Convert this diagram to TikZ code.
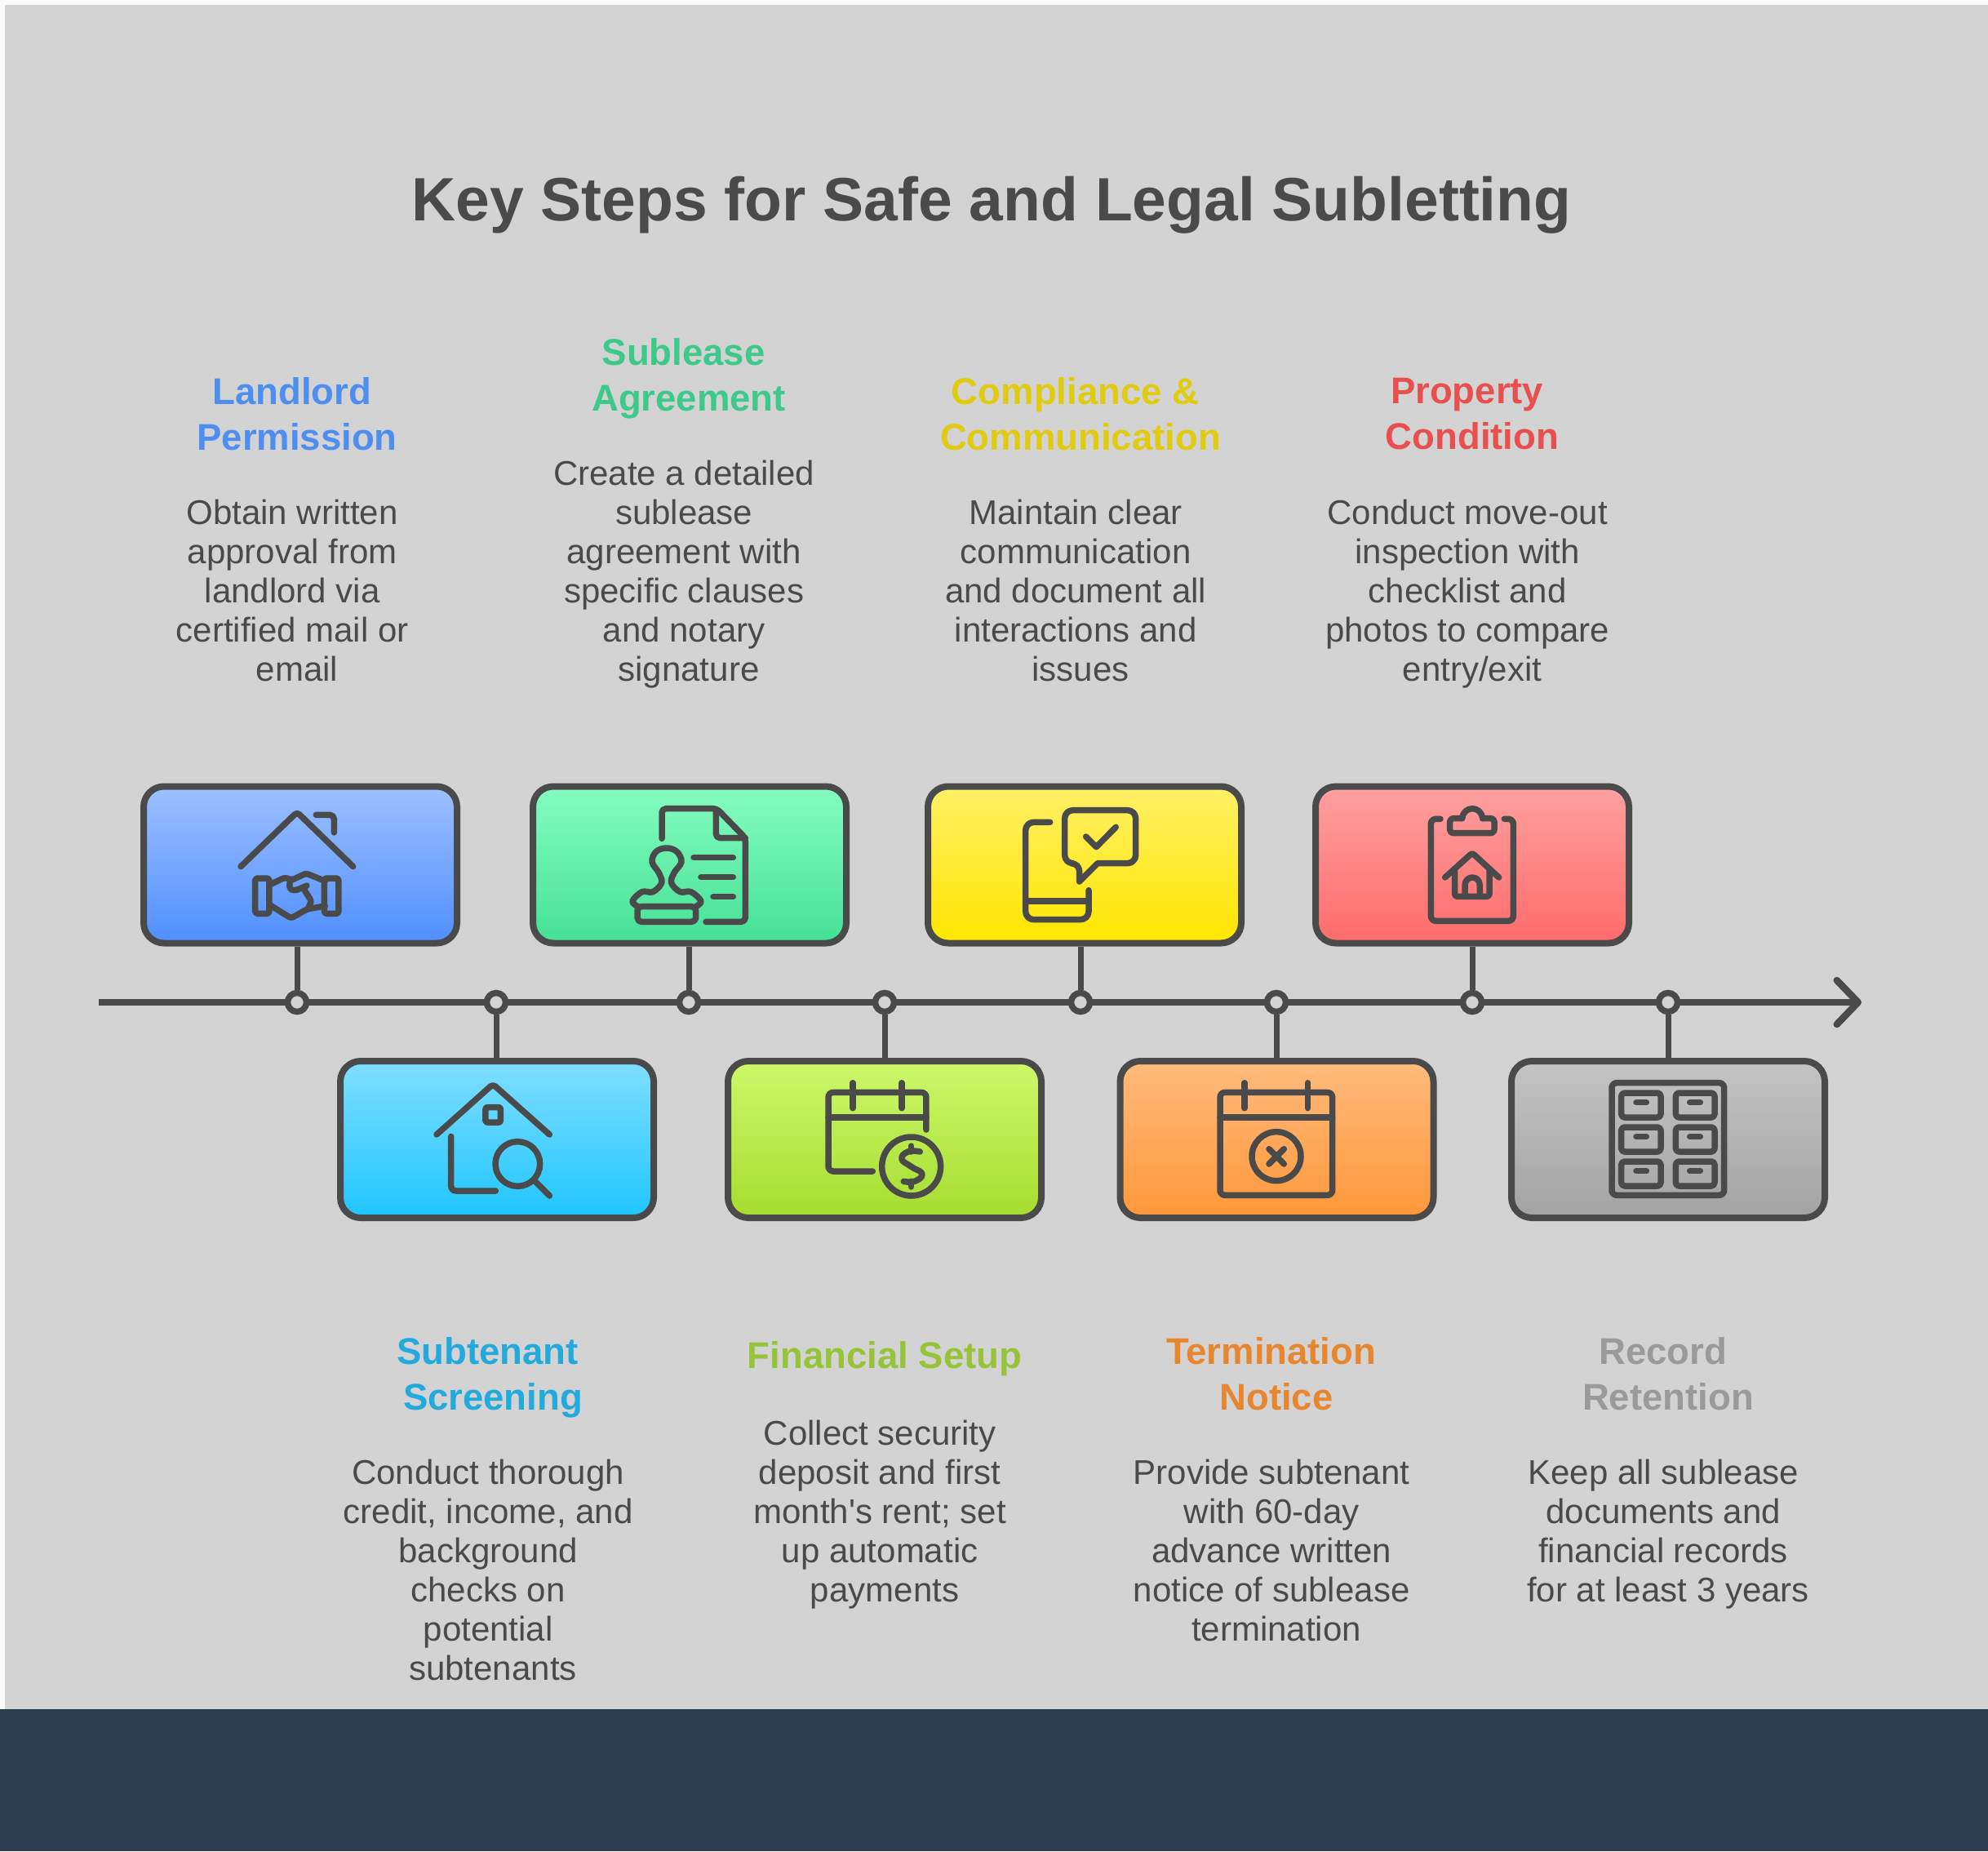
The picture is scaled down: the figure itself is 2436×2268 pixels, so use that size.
\documentclass[tikz,border=0pt]{standalone}
\usepackage{fontspec}
\setmainfont{Liberation Sans}
\usetikzlibrary{arrows.meta}

\definecolor{linegray}{HTML}{4A4A4A}
\definecolor{panelgray}{HTML}{D3D3D3}
\definecolor{navy}{HTML}{2C3E50}
\definecolor{paper}{HTML}{F9FBFB}
\definecolor{bluetext}{HTML}{4D8EF0}
\definecolor{greentext}{HTML}{3CC98A}
\definecolor{yellowtext}{HTML}{E0CB10}
\definecolor{redtext}{HTML}{E85050}
\definecolor{cyantext}{HTML}{22AADD}
\definecolor{limetext}{HTML}{95C438}
\definecolor{orangetext}{HTML}{E8862D}
\definecolor{graytext}{HTML}{9A9A9A}
\definecolor{bluetop}{HTML}{9DC0FF}
\definecolor{bluebot}{HTML}{4F8FFF}
\definecolor{greentop}{HTML}{85FDC0}
\definecolor{greenbot}{HTML}{45E096}
\definecolor{yellowtop}{HTML}{FFF066}
\definecolor{yellowbot}{HTML}{FFE600}
\definecolor{redtop}{HTML}{FFA0A0}
\definecolor{redbot}{HTML}{FF6B6B}
\definecolor{cyantop}{HTML}{80DFFF}
\definecolor{cyanbot}{HTML}{1FC5FF}
\definecolor{limetop}{HTML}{CCF86A}
\definecolor{limebot}{HTML}{A6DD30}
\definecolor{orangetop}{HTML}{FFBB7C}
\definecolor{orangebot}{HTML}{FF973A}
\definecolor{graytop}{HTML}{C4C4C4}
\definecolor{graybot}{HTML}{A3A3A3}

\newcommand{\linebrk}{\ \mbox{}\\}

\begin{document}
\begin{tikzpicture}[
        x=1pt,
        y=-1pt,
        stepbox/.style={
            rectangle,
            rounded corners=25pt,
            draw=linegray,
            line width=8pt,
            minimum width=384pt,
            minimum height=192pt,
            inner sep=0pt,
        },
        dot/.style={
            circle,
            fill=panelgray,
            draw=linegray,
            line width=7.5pt,
            minimum size=23pt,
            inner sep=0pt,
        },
        stem/.style={
            draw=linegray,
            line width=7pt,
        },
        icon/.style={
            draw=linegray,
            line width=7.5pt,
            line cap=round,
            line join=round,
        },
        heading/.style={
            anchor=north,
            align=center,
            inner sep=0pt,
            font=\fontsize{45.5}{56}\selectfont\bfseries,
            execute at begin node=\strut,
            execute at end node=\strut,
        },
        body/.style={
            anchor=north,
            align=center,
            inner sep=0pt,
            text=linegray,
            font=\fontsize{42}{48}\selectfont,
            execute at begin node=\strut,
            execute at end node=\strut,
        },
    ]

    \useasboundingbox (0, 0) rectangle (2436, 2268);
    \fill[paper] (0, 0) rectangle (2436, 2268);
    \fill[panelgray] (6, 6) rectangle (2436, 2094);
    \fill[navy] (0, 2094) rectangle (2436, 2268);

    \node[text=linegray, font=\fontsize{75}{90}\selectfont\bfseries, inner sep=0pt] (title) at (1215, 251) {Key Steps for Safe and Legal Subletting};

    \coordinate (axisstart) at (121, 1228);
    \coordinate (axisend) at (2281, 1228);
    \draw[draw=linegray, line width=8.5pt, -{Straight Barb[length=26pt, width=54pt, round]}] (axisstart) -- (axisend);

    \node[stepbox, top color=bluetop, bottom color=bluebot] (landlord) at (368, 1059.5) {};
    \node[stepbox, top color=greentop, bottom color=greenbot] (sublease) at (845, 1059.5) {};
    \node[stepbox, top color=yellowtop, bottom color=yellowbot] (compliance) at (1329, 1059.5) {};
    \node[stepbox, top color=redtop, bottom color=redbot] (condition) at (1804, 1059.5) {};
    \node[stepbox, top color=cyantop, bottom color=cyanbot] (screening) at (609, 1396) {};
    \node[stepbox, top color=limetop, bottom color=limebot] (financial) at (1084, 1396) {};
    \node[stepbox, top color=orangetop, bottom color=orangebot] (termination) at (1564.5, 1396) {};
    \node[stepbox, top color=graytop, bottom color=graybot] (retention) at (2044, 1396) {};

    \node[dot] (d1) at (364, 1228) {};
    \node[dot] (d2) at (608, 1228) {};
    \node[dot] (d3) at (844, 1228) {};
    \node[dot] (d4) at (1084, 1228) {};
    \node[dot] (d5) at (1324, 1228) {};
    \node[dot] (d6) at (1564, 1228) {};
    \node[dot] (d7) at (1804, 1228) {};
    \node[dot] (d8) at (2044, 1228) {};

    \draw[stem] (landlord.south -| d1) -- (d1);
    \draw[stem] (screening.north -| d2) -- (d2);
    \draw[stem] (sublease.south -| d3) -- (d3);
    \draw[stem] (financial.north -| d4) -- (d4);
    \draw[stem] (compliance.south -| d5) -- (d5);
    \draw[stem] (termination.north -| d6) -- (d6);
    \draw[stem] (condition.south -| d7) -- (d7);
    \draw[stem] (retention.north -| d8) -- (d8);

    \begin{scope}[shift={(270, 960)}, x=.3333pt, y=-.3333pt]
        \draw[icon, rounded corners=4pt] (75, 305) -- (282, 105) -- (488, 305);
        \draw[icon, rounded corners=5pt] (352, 115) -- (418, 115) -- (418, 180);
        \draw[icon, rounded corners=3pt] (128, 348) rectangle (180, 478);
        \draw[icon, rounded corners=3pt] (382, 348) rectangle (435, 478);
        \draw[icon, rounded corners=3pt] (185, 370) -- (238, 345) -- (262, 355) -- (315, 330) -- (385, 358);
        \draw[icon, rounded corners=3pt] (185, 448) -- (260, 495) -- (318, 462) -- (385, 450);
        \draw[icon, rounded corners=4pt] (258, 352) -- (252, 385) -- (272, 395) -- (318, 375);
        \draw[icon, rounded corners=3pt] (305, 385) -- (335, 432) -- (322, 460);
    \end{scope}

    \begin{scope}[shift={(750, 970)}, x=.3333pt, y=-.3333pt]
        \draw[icon, rounded corners=5pt] (183, 172) -- (183, 62) -- (385, 62) -- (490, 170) -- (490, 478) -- (345, 478);
        \draw[icon, rounded corners=5pt] (382, 70) -- (382, 170) -- (490, 170);
        \draw[icon] (300, 242) -- (445, 242);
        \draw[icon] (327, 314) -- (445, 314);
        \draw[icon] (372, 386) -- (445, 386);
        \draw[icon] plot[smooth, tension=.6] coordinates {(95, 422) (75, 402) (110, 368) (150, 368) (182, 335) (172, 298) (147, 258) (162, 220) (200, 207) (238, 220) (255, 258) (228, 298) (218, 335) (250, 368) (290, 368) (327, 402) (308, 422)};
        \draw[icon, rounded corners=5pt] (93, 422) rectangle (308, 478);
    \end{scope}

    \begin{scope}[shift={(1230, 970)}, x=.3333pt, y=-.3333pt]
        \draw[icon, rounded corners=10pt] (170, 112) -- (80, 112) -- (80, 470) -- (312, 470) -- (312, 362);
        \draw[icon] (80, 402) -- (312, 402);
        \draw[icon, rounded corners=10pt] (345, 263) -- (485, 263) -- (485, 68) -- (224, 68) -- (224, 263) -- (278, 263) [rounded corners=0pt] -- (278, 330) -- cycle;
        \draw[icon] (302, 165) -- (340, 203) -- (412, 130);
    \end{scope}

    \begin{scope}[shift={(1710, 970)}, x=.3333pt, y=-.3333pt]
        \draw[icon, rounded corners=6pt] (165, 100) -- (130, 100) -- (130, 475) -- (433, 475) -- (433, 100) -- (400, 100);
        \draw[icon, rounded corners=4pt] (245, 98) -- (200, 98) -- (200, 152) -- (363, 152) -- (363, 98) -- (320, 98);
        \draw[icon] (245, 98) .. controls (250, 50) and (315, 50) .. (320, 98);
        \draw[icon, rounded corners=3pt] (182, 315) -- (282, 225) -- (380, 315);
        \draw[icon, rounded corners=3pt] (218, 285) -- (218, 385) -- (345, 385) -- (345, 285);
        \draw[icon] (255, 385) -- (255, 345) .. controls (255, 305) and (310, 305) .. (310, 345) -- (310, 385);
    \end{scope}

    \begin{scope}[shift={(510, 1310)}, x=.3333pt, y=-.3333pt]
        \draw[icon, rounded corners=4pt] (75, 240) -- (282, 55) -- (490, 240);
        \draw[icon, rounded corners=2pt] (255, 140) rectangle (310, 195);
        \draw[icon, rounded corners=6pt] (128, 247) -- (128, 447) -- (292, 447);
        \draw[icon] (373, 348) circle[radius=82];
        \draw[icon] (435, 410) -- (490, 465);
    \end{scope}

    \begin{scope}[shift={(990, 1310)}, x=.3333pt, y=-.3333pt]
        \draw[icon, rounded corners=6pt] (435, 222) -- (435, 85) -- (75, 85) -- (75, 375) -- (238, 375);
        \draw[icon] (165, 50) -- (165, 143);
        \draw[icon] (345, 50) -- (345, 143);
        \draw[icon] (75, 177) -- (435, 177);
        \draw[icon] (380, 357) circle[radius=108];
        \draw[icon] plot[smooth, tension=.8] coordinates {(412, 303) (368, 303) (345, 330) (380, 358) (420, 385) (392, 412) (352, 412)};
        \draw[icon] (380, 282) -- (380, 303);
        \draw[icon] (380, 412) -- (380, 432);
    \end{scope}

    \begin{scope}[shift={(1470, 1310)}, x=.3333pt, y=-.3333pt]
        \draw[icon, rounded corners=6pt] (75, 85) rectangle (488, 463);
        \draw[icon] (165, 50) -- (165, 143);
        \draw[icon] (398, 50) -- (398, 143);
        \draw[icon] (75, 177) -- (488, 177);
        \draw[icon] (282, 320) circle[radius=90];
        \draw[icon] (255, 293) -- (310, 348);
        \draw[icon] (310, 293) -- (255, 348);
    \end{scope}

    \begin{scope}[shift={(1950, 1310)}, x=.3333pt, y=-.3333pt]
        \draw[icon, rounded corners=6pt] (75, 50) rectangle (488, 463);
        \draw[icon, rounded corners=4pt] (110, 87) rectangle (255, 177);
        \draw[icon, rounded corners=4pt] (310, 87) rectangle (453, 177);
        \draw[icon, rounded corners=4pt] (110, 213) rectangle (255, 303);
        \draw[icon, rounded corners=4pt] (310, 213) rectangle (453, 303);
        \draw[icon, rounded corners=4pt] (110, 339) rectangle (255, 429);
        \draw[icon, rounded corners=4pt] (310, 339) rectangle (453, 429);
        \draw[icon] (165, 122) -- (202, 122);
        \draw[icon] (362, 122) -- (400, 122);
        \draw[icon] (165, 248) -- (202, 248);
        \draw[icon] (362, 248) -- (400, 248);
        \draw[icon] (165, 374) -- (202, 374);
        \draw[icon] (362, 374) -- (400, 374);
    \end{scope}

    \node[heading, text=bluetext] (h1) at (364, 462) {Landlord\linebrk Permission};
    \node[body] (b1) at (364, 612) {Obtain written\linebrk approval from\linebrk landlord via\linebrk certified mail or\linebrk email};

    \node[heading, text=greentext] (h3) at (844, 414) {Sublease\linebrk Agreement};
    \node[body] (b3) at (844, 564) {Create a detailed\linebrk sublease\linebrk agreement with\linebrk specific clauses\linebrk and notary\linebrk signature};

    \node[heading, text=yellowtext] (h5) at (1324, 462) {Compliance \&\linebrk Communication};
    \node[body] (b5) at (1324, 612) {Maintain clear\linebrk communication\linebrk and document all\linebrk interactions and\linebrk issues};

    \node[heading, text=redtext] (h7) at (1804, 463) {Property\linebrk Condition};
    \node[body] (b7) at (1804, 612) {Conduct move-out\linebrk inspection with\linebrk checklist and\linebrk photos to compare\linebrk entry/exit};

    \node[heading, text=cyantext] (h2) at (604, 1638) {Subtenant\linebrk Screening};
    \node[body] (b2) at (604, 1788) {Conduct thorough\linebrk credit, income, and\linebrk background\linebrk checks on\linebrk potential\linebrk subtenants};

    \node[heading, text=limetext] (h4) at (1084, 1637) {Financial Setup};
    \node[body] (b4) at (1084, 1740) {Collect security\linebrk deposit and first\linebrk month\textquotesingle s rent; set\linebrk up automatic\linebrk payments};

    \node[heading, text=orangetext] (h6) at (1564, 1638) {Termination\linebrk Notice};
    \node[body] (b6) at (1564, 1788) {Provide subtenant\linebrk with 60-day\linebrk advance written\linebrk notice of sublease\linebrk termination};

    \node[heading, text=graytext] (h8) at (2044, 1638) {Record\linebrk Retention};
    \node[body] (b8) at (2044, 1788) {Keep all sublease\linebrk documents and\linebrk financial records\linebrk for at least 3 years};

\end{tikzpicture}
\end{document}
